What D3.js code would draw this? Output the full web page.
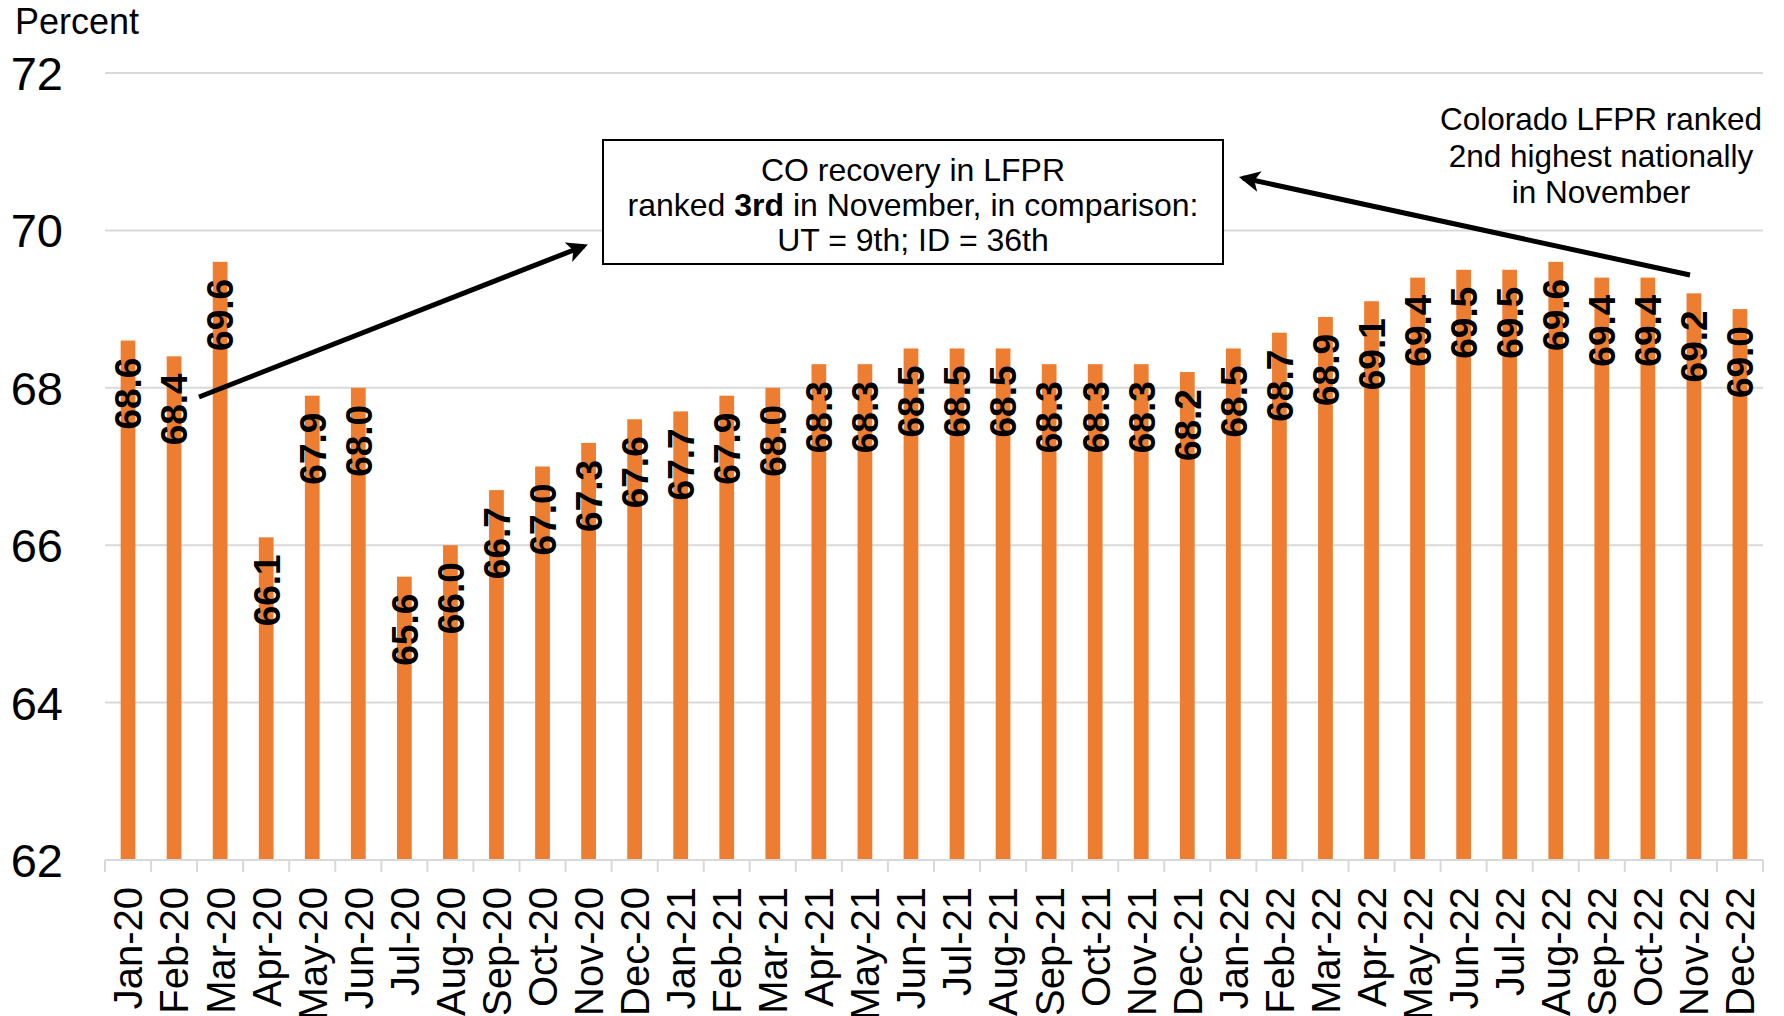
<!DOCTYPE html>
<html>
<head>
<meta charset="utf-8">
<script src="https://cdn.jsdelivr.net/npm/d3@7"></script>
<style>
  body { margin: 0; background: #fff; }
  svg text { font-family: Arial, "Liberation Sans", sans-serif; fill: #000; }
</style>
</head>
<body>
<div id="chart"></div>
<script>
var months = ["Jan-20","Feb-20","Mar-20","Apr-20","May-20","Jun-20","Jul-20","Aug-20","Sep-20","Oct-20","Nov-20","Dec-20",
              "Jan-21","Feb-21","Mar-21","Apr-21","May-21","Jun-21","Jul-21","Aug-21","Sep-21","Oct-21","Nov-21","Dec-21",
              "Jan-22","Feb-22","Mar-22","Apr-22","May-22","Jun-22","Jul-22","Aug-22","Sep-22","Oct-22","Nov-22","Dec-22"];
var lfpr = [68.6, 68.4, 69.6, 66.1, 67.9, 68.0, 65.6, 66.0, 66.7, 67.0, 67.3, 67.6,
            67.7, 67.9, 68.0, 68.3, 68.3, 68.5, 68.5, 68.5, 68.3, 68.3, 68.3, 68.2,
            68.5, 68.7, 68.9, 69.1, 69.4, 69.5, 69.5, 69.6, 69.4, 69.4, 69.2, 69.0];
var yTicks = [62, 64, 66, 68, 70, 72];

var width = 1784, height = 1016;
var margin = {top: 73, right: 21, bottom: 156, left: 105};

var svg = d3.select("#chart").append("svg")
    .attr("width", width)
    .attr("height", height);

var x = d3.scaleBand()
    .domain(months)
    .range([margin.left, width - margin.right])
    .paddingInner(0.68)
    .paddingOuter(0.34);

var y = d3.scaleLinear()
    .domain([62, 72])
    .range([height - margin.bottom, margin.top]);

// gridlines
svg.append("g")
    .selectAll("line")
    .data(yTicks.slice(1))
    .enter()
    .append("line")
    .attr("x1", margin.left)
    .attr("x2", width - margin.right)
    .attr("y1", d => y(d))
    .attr("y2", d => y(d))
    .attr("stroke", "#d9d9d9")
    .attr("stroke-width", 2);

// y labels
svg.append("g")
    .selectAll("text")
    .data(yTicks)
    .enter()
    .append("text")
    .attr("x", 63)
    .attr("y", d => y(d))
    .attr("dy", "0.36em")
    .attr("text-anchor", "end")
    .style("font-size", "47px")
    .text(d => d);

svg.append("text")
    .attr("x", 15)
    .attr("y", 34)
    .style("font-size", "36px")
    .text("Percent");

// bars
svg.append("g")
    .selectAll("rect")
    .data(lfpr)
    .enter()
    .append("rect")
    .attr("x", (d, i) => x(months[i]))
    .attr("width", x.bandwidth())
    .attr("y", d => y(d))
    .attr("height", d => y(62) - y(d))
    .attr("fill", "#ED7D31");

// x axis line and ticks
var x0 = margin.left, x1 = width - margin.right;
svg.append("line")
    .attr("x1", x0).attr("x2", x1)
    .attr("y1", y(62)).attr("y2", y(62))
    .attr("stroke", "#d9d9d9").attr("stroke-width", 2);

svg.append("g")
    .selectAll("line")
    .data(d3.range(months.length + 1))
    .enter()
    .append("line")
    .attr("x1", i => x0 + i * (x1 - x0) / months.length)
    .attr("x2", i => x0 + i * (x1 - x0) / months.length)
    .attr("y1", y(62))
    .attr("y2", y(62) + 12)
    .attr("stroke", "#d9d9d9")
    .attr("stroke-width", 2);

// x labels
svg.append("g")
    .selectAll("text")
    .data(months)
    .enter()
    .append("text")
    .attr("transform", d => "translate(" + (x(d) + x.bandwidth() / 2) + "," + (y(62) + 27) + ") rotate(-90)")
    .attr("text-anchor", "end")
    .attr("dy", "0.36em")
    .style("font-size", "40px")
    .text(d => d);

// data labels
svg.append("g")
    .selectAll("text")
    .data(lfpr)
    .enter()
    .append("text")
    .attr("transform", (d, i) => "translate(" + (x(months[i]) + x.bandwidth() / 2) + "," + (y(d) + 17) + ") rotate(-90)")
    .attr("text-anchor", "end")
    .attr("dy", "0.36em")
    .style("font-size", "37px")
    .style("font-weight", "bold")
    .text(d => d.toFixed(1));

// arrows
svg.append("defs").append("marker")
    .attr("id", "head")
    .attr("viewBox", "0 0 10 10")
    .attr("refX", 8)
    .attr("refY", 5)
    .attr("markerWidth", 4.2)
    .attr("markerHeight", 4.2)
    .attr("orient", "auto")
    .append("path")
    .attr("d", "M0,0 L10,5 L0,10 L2.5,5 Z")
    .attr("fill", "#000");

svg.append("line")
    .attr("x1", 199).attr("y1", 397)
    .attr("x2", 584).attr("y2", 246)
    .attr("stroke", "#000").attr("stroke-width", 5)
    .attr("marker-end", "url(#head)");

svg.append("line")
    .attr("x1", 1690).attr("y1", 275)
    .attr("x2", 1243).attr("y2", 178)
    .attr("stroke", "#000").attr("stroke-width", 5)
    .attr("marker-end", "url(#head)");

// boxed annotation
svg.append("rect")
    .attr("x", 603).attr("y", 140)
    .attr("width", 620).attr("height", 124)
    .attr("fill", "#fff")
    .attr("stroke", "#000")
    .attr("stroke-width", 2);

var box = svg.append("text")
    .attr("text-anchor", "middle")
    .style("font-size", "32px");
box.append("tspan").attr("x", 913).attr("y", 181).text("CO recovery in LFPR");
var l2 = box.append("tspan").attr("x", 913).attr("y", 216);
l2.append("tspan").text("ranked ");
l2.append("tspan").style("font-weight", "bold").text("3rd");
l2.append("tspan").text(" in November, in comparison:");
box.append("tspan").attr("x", 913).attr("y", 251).text("UT = 9th; ID = 36th");

// right note
var note = svg.append("text")
    .attr("text-anchor", "middle")
    .style("font-size", "31.5px");
["Colorado LFPR ranked", "2nd highest nationally", "in November"].forEach((t, i) => {
    note.append("tspan").attr("x", 1601).attr("y", 130 + i * 36.5).text(t);
});
</script>
</body>
</html>
